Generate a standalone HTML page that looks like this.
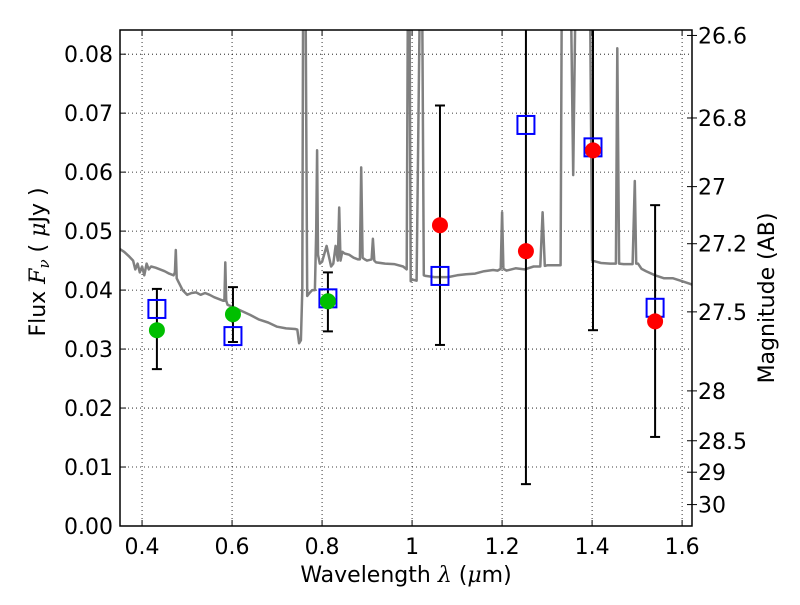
<!DOCTYPE html>
<html><head><meta charset="utf-8"><style>
html,body{margin:0;padding:0;background:#fff;}
svg text{font-family:"DejaVu Sans","Liberation Sans",sans-serif;}
</style></head><body>
<svg id="chart" width="800" height="600" xmlns="http://www.w3.org/2000/svg"></svg>
<script>
const xTicks=[0.4,0.6,0.8,1.0,1.2,1.4,1.6];
const xTickLabels=["0.4","0.6","0.8","1","1.2","1.4","1.6"];
const yTicks=[0,0.01,0.02,0.03,0.04,0.05,0.06,0.07,0.08];
const yTickLabels=["0.00","0.01","0.02","0.03","0.04","0.05","0.06","0.07","0.08"];
const magTicks=[26.6,26.8,27,27.2,27.5,28,28.5,29,30];
const magTickLabels=["26.6","26.8","27","27.2","27.5","28","28.5","29","30"];
const specLam=[0.35,0.36,0.37,0.38,0.385,0.39,0.395,0.40,0.405,0.41,0.415,0.42,0.43,0.44,0.45,0.46,0.47,0.473,0.475,0.477,0.48,0.49,0.50,0.51,0.52,0.53,0.54,0.55,0.56,0.57,0.58,0.583,0.585,0.587,0.59,0.60,0.62,0.64,0.66,0.68,0.70,0.72,0.74,0.745,0.749,0.753,0.756,0.758,0.76,0.763,0.767,0.772,0.778,0.784,0.787,0.789,0.791,0.795,0.80,0.81,0.82,0.825,0.83,0.835,0.838,0.841,0.845,0.85,0.86,0.87,0.88,0.884,0.887,0.89,0.895,0.90,0.91,0.913,0.916,0.92,0.94,0.96,0.98,0.988,0.991,0.994,0.997,1.00,1.01,1.018,1.022,1.026,1.03,1.05,1.08,1.10,1.12,1.14,1.16,1.18,1.19,1.197,1.2,1.203,1.21,1.23,1.25,1.27,1.285,1.29,1.295,1.30,1.32,1.33,1.333,1.345,1.352,1.358,1.364,1.37,1.38,1.39,1.395,1.40,1.41,1.42,1.44,1.45,1.453,1.456,1.46,1.47,1.49,1.495,1.498,1.502,1.51,1.52,1.54,1.56,1.58,1.60,1.62,1.63];
const specFlux=[0.047,0.0465,0.0458,0.045,0.0435,0.0445,0.043,0.044,0.0425,0.0445,0.0435,0.044,0.0438,0.0435,0.0432,0.0428,0.0425,0.043,0.0468,0.042,0.0415,0.040,0.0392,0.0395,0.0396,0.0392,0.0395,0.0392,0.0388,0.0385,0.0382,0.0382,0.0447,0.0382,0.0375,0.0372,0.0365,0.0358,0.035,0.0345,0.0338,0.0335,0.0334,0.0333,0.031,0.0315,0.040,0.095,0.095,0.095,0.039,0.0395,0.040,0.040,0.05,0.0637,0.046,0.0445,0.0448,0.0475,0.044,0.0445,0.0475,0.045,0.054,0.045,0.0465,0.0462,0.046,0.0455,0.0452,0.0452,0.0608,0.0455,0.0452,0.045,0.0452,0.0487,0.045,0.0447,0.0445,0.0444,0.044,0.0435,0.095,0.095,0.0415,0.0418,0.0416,0.095,0.095,0.0425,0.0424,0.0422,0.0422,0.0425,0.0427,0.0428,0.0432,0.0434,0.0433,0.0436,0.0532,0.0436,0.0433,0.0437,0.0435,0.044,0.044,0.0532,0.0441,0.0442,0.0442,0.0442,0.095,0.095,0.095,0.0595,0.095,0.095,0.095,0.095,0.095,0.045,0.0448,0.0446,0.0445,0.0445,0.0445,0.081,0.0445,0.0444,0.0444,0.0585,0.0445,0.0445,0.0436,0.0432,0.0425,0.042,0.042,0.0415,0.041,0.0405];
const greenLam=[0.433,0.602,0.813];
const greenFlux=[0.0332,0.0359,0.0381];
const blueLam=[0.433,0.602,0.813,1.062,1.253,1.402,1.540];
const blueFlux=[0.0368,0.0322,0.0386,0.0424,0.068,0.0642,0.037];
const redLam=[1.062,1.253,1.402,1.540];
const redFlux=[0.0510,0.0466,0.0637,0.0347];
const errLam=[0.433,0.602,0.813,1.062,1.253,1.402,1.540];
const errLo=[0.0266,0.0312,0.0330,0.0307,0.0071,0.0332,0.0151];
const errHi=[0.0402,0.0405,0.0430,0.0713,0.095,0.095,0.0544];

const L=120,R=692,T=30,B=526;
const xMin=0.351,xMax=1.622,yMin=0,yMax=0.0841;
const X=v=>L+(v-xMin)/(xMax-xMin)*(R-L);
const Y=v=>B-(v-yMin)/(yMax-yMin)*(B-T);
const magToFlux=m=>Math.pow(10,(23.9-m)/2.5);
const svg=document.getElementById('chart');
const NS='http://www.w3.org/2000/svg';
function mk(tag,attrs,parent){const e=document.createElementNS(NS,tag);for(const k in attrs)e.setAttribute(k,attrs[k]);(parent||svg).appendChild(e);return e;}

const defs=mk('defs',{});
const cp=mk('clipPath',{id:'plotclip'},defs);
mk('rect',{x:L,y:T,width:R-L,height:B-T},cp);

const grid=mk('g',{});


xTicks.forEach(v=>{mk('line',{x1:X(v),x2:X(v),y1:T,y2:B,stroke:'#000','stroke-width':0.8,'stroke-dasharray':'1,3'},grid);});
yTicks.forEach(v=>{mk('line',{x1:L,x2:R,y1:Y(v),y2:Y(v),stroke:'#000','stroke-width':0.8,'stroke-dasharray':'1,3'},grid);});

const plot=mk('g',{'clip-path':'url(#plotclip)'});
let d='';
specLam.forEach((l,i)=>{d+=(i?'L':'M')+X(l).toFixed(1)+','+Y(specFlux[i]).toFixed(1);});
const sp=mk('path',{d:d,fill:'none',stroke:'#808080','stroke-width':2.5,'stroke-linejoin':'round'},plot);



errLam.forEach((l,i)=>{
  const g=mk('g',{},plot);
  
  
  const x=X(l);
  mk('line',{x1:x,x2:x,y1:Y(errLo[i]),y2:Y(errHi[i]),stroke:'#000','stroke-width':2},g);
  mk('line',{x1:x-5,x2:x+5,y1:Y(errLo[i]),y2:Y(errLo[i]),stroke:'#000','stroke-width':2},g);
  mk('line',{x1:x-5,x2:x+5,y1:Y(errHi[i]),y2:Y(errHi[i]),stroke:'#000','stroke-width':2},g);
});
blueLam.forEach((l,i)=>{
  const r=mk('rect',{x:X(l)-8.5,y:Y(blueFlux[i])-9,width:17,height:18,fill:'none',stroke:'#0000ff','stroke-width':2},plot);
  
  
});
greenLam.forEach((l,i)=>{
  const c=mk('circle',{cx:X(l),cy:Y(greenFlux[i]),r:8,fill:'#00bf00'},plot);
  
  
});
redLam.forEach((l,i)=>{
  const c=mk('circle',{cx:X(l),cy:Y(redFlux[i]),r:8,fill:'#ff0000'},plot);
  
  
});

const fr=mk('rect',{x:L,y:T,width:R-L,height:B-T,fill:'none',stroke:'#000','stroke-width':1.5});



xTicks.forEach((v,i)=>{
  mk('line',{x1:X(v),x2:X(v),y1:B,y2:B-6,stroke:'#000','stroke-width':1});
  mk('line',{x1:X(v),x2:X(v),y1:T,y2:T+6,stroke:'#000','stroke-width':1});
  const t=mk('text',{x:X(v),y:B+28,'text-anchor':'middle','font-size':22});
  t.textContent=xTickLabels[i];
  
  
});
yTicks.forEach((v,i)=>{
  mk('line',{x1:L,x2:L+6,y1:Y(v),y2:Y(v),stroke:'#000','stroke-width':1});
  const t=mk('text',{x:L-7,y:Y(v)+8,'text-anchor':'end','font-size':22});
  t.textContent=yTickLabels[i];
  
  
});
magTicks.forEach((m,i)=>{
  const y=Y(magToFlux(m));
  mk('line',{x1:R,x2:R+5,y1:y,y2:y,stroke:'#000','stroke-width':1});
  mk('line',{x1:R,x2:R-5,y1:y,y2:y,stroke:'#000','stroke-width':1});
  const t=mk('text',{x:R+6,y:y+8,'font-size':22});
  t.textContent=magTickLabels[i];
  
  
});

const xl=mk('text',{x:406,y:582,'text-anchor':'middle','font-size':22,'xml:space':'preserve'});
xl.innerHTML='Wavelength  <tspan font-family="DejaVu Serif" font-style="italic">λ</tspan> (<tspan font-family="DejaVu Serif" font-style="italic">μ</tspan>m)';


const yl=mk('text',{x:0,y:0,'text-anchor':'middle','font-size':22,'xml:space':'preserve',transform:'translate(45,262) rotate(-90)'});
yl.innerHTML='Flux  <tspan font-family="DejaVu Serif" font-style="italic">F</tspan><tspan font-family="DejaVu Serif" font-style="italic" font-size="15" dy="4">ν</tspan><tspan dy="-4">  (  </tspan><tspan font-family="DejaVu Serif" font-style="italic">μ</tspan>Jy )';


const rl=mk('text',{x:0,y:0,'text-anchor':'middle','font-size':22,transform:'translate(774,298) rotate(-90)'});
rl.textContent='Magnitude (AB)';


</script>
</body></html>
